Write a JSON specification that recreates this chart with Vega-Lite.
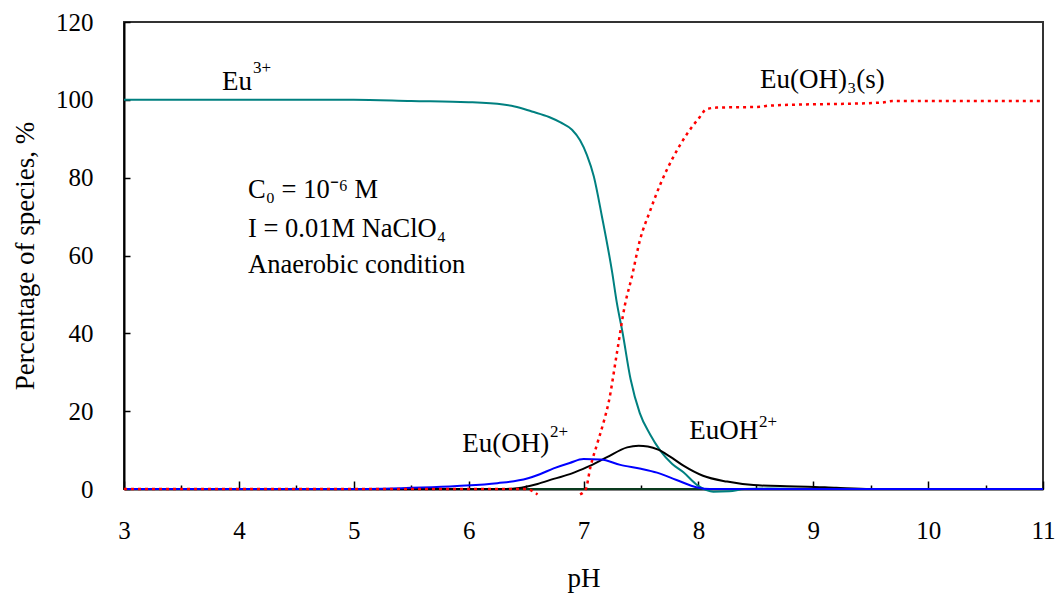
{
  "$schema": "https://vega.github.io/schema/vega-lite/v6.json",
  "width": 919,
  "height": 467,
  "autosize": {"type": "none"},
  "padding": {"left": 124, "top": 22, "right": 12, "bottom": 107},
  "background": "white",
  "config": {
    "view": {"stroke": "#333333", "strokeWidth": 2},
    "font": "Liberation Serif",
    "axis": {"labelFont": "Liberation Serif", "titleFont": "Liberation Serif", "labelColor": "black", "titleColor": "black", "titleFontWeight": "normal", "labelFontSize": 25, "titleFontSize": 27, "domainColor": "black", "domainWidth": 2, "tickColor": "black", "tickWidth": 1.5, "grid": false}
  },
  "datasets": {
    "curves": [
      {"pH": 3, "pct": 0, "s": "base", "seg": "g"},
      {"pH": 11, "pct": 0, "s": "base", "seg": "g"},

      {"pH": 3, "pct": 100, "s": "Eu3+", "seg": "t"},
      {"pH": 4, "pct": 100, "s": "Eu3+", "seg": "t"},
      {"pH": 5, "pct": 100, "s": "Eu3+", "seg": "t"},
      {"pH": 5.5, "pct": 99.7, "s": "Eu3+", "seg": "t"},
      {"pH": 6, "pct": 99.4, "s": "Eu3+", "seg": "t"},
      {"pH": 6.3, "pct": 98.8, "s": "Eu3+", "seg": "t"},
      {"pH": 6.4, "pct": 98.3, "s": "Eu3+", "seg": "t"},
      {"pH": 6.55, "pct": 97, "s": "Eu3+", "seg": "t"},
      {"pH": 6.7, "pct": 95.6, "s": "Eu3+", "seg": "t"},
      {"pH": 6.8, "pct": 94.2, "s": "Eu3+", "seg": "t"},
      {"pH": 6.9, "pct": 92.3, "s": "Eu3+", "seg": "t"},
      {"pH": 6.97, "pct": 89.6, "s": "Eu3+", "seg": "t"},
      {"pH": 7.03, "pct": 85.8, "s": "Eu3+", "seg": "t"},
      {"pH": 7.09, "pct": 80.3, "s": "Eu3+", "seg": "t"},
      {"pH": 7.16, "pct": 70.1, "s": "Eu3+", "seg": "t"},
      {"pH": 7.25, "pct": 55.6, "s": "Eu3+", "seg": "t"},
      {"pH": 7.29, "pct": 47.9, "s": "Eu3+", "seg": "t"},
      {"pH": 7.34, "pct": 40.2, "s": "Eu3+", "seg": "t"},
      {"pH": 7.41, "pct": 28.2, "s": "Eu3+", "seg": "t"},
      {"pH": 7.49, "pct": 19.5, "s": "Eu3+", "seg": "t"},
      {"pH": 7.58, "pct": 14, "s": "Eu3+", "seg": "t"},
      {"pH": 7.67, "pct": 9.8, "s": "Eu3+", "seg": "t"},
      {"pH": 7.77, "pct": 6.5, "s": "Eu3+", "seg": "t"},
      {"pH": 7.87, "pct": 4.3, "s": "Eu3+", "seg": "t"},
      {"pH": 7.99, "pct": 1.0, "s": "Eu3+", "seg": "t"},
      {"pH": 8.07, "pct": -0.3, "s": "Eu3+", "seg": "t"},
      {"pH": 8.13, "pct": -0.7, "s": "Eu3+", "seg": "t"},
      {"pH": 8.27, "pct": -0.6, "s": "Eu3+", "seg": "t"},
      {"pH": 8.4, "pct": 0, "s": "Eu3+", "seg": "t"},
      {"pH": 8.6, "pct": 0.1, "s": "Eu3+", "seg": "t"},
      {"pH": 9, "pct": 0, "s": "Eu3+", "seg": "t"},
      {"pH": 11, "pct": 0, "s": "Eu3+", "seg": "t"},

      {"pH": 3, "pct": 0, "s": "EuOH2+", "seg": "k"},
      {"pH": 6.3, "pct": 0, "s": "EuOH2+", "seg": "k"},
      {"pH": 6.42, "pct": 0.2, "s": "EuOH2+", "seg": "k"},
      {"pH": 6.6, "pct": 1.3, "s": "EuOH2+", "seg": "k"},
      {"pH": 6.74, "pct": 2.6, "s": "EuOH2+", "seg": "k"},
      {"pH": 6.9, "pct": 4, "s": "EuOH2+", "seg": "k"},
      {"pH": 7.03, "pct": 5.6, "s": "EuOH2+", "seg": "k"},
      {"pH": 7.2, "pct": 8.1, "s": "EuOH2+", "seg": "k"},
      {"pH": 7.38, "pct": 10.7, "s": "EuOH2+", "seg": "k"},
      {"pH": 7.48, "pct": 11.1, "s": "EuOH2+", "seg": "k"},
      {"pH": 7.56, "pct": 10.9, "s": "EuOH2+", "seg": "k"},
      {"pH": 7.65, "pct": 10.1, "s": "EuOH2+", "seg": "k"},
      {"pH": 7.75, "pct": 8.4, "s": "EuOH2+", "seg": "k"},
      {"pH": 7.87, "pct": 6.0, "s": "EuOH2+", "seg": "k"},
      {"pH": 8.04, "pct": 3.4, "s": "EuOH2+", "seg": "k"},
      {"pH": 8.25, "pct": 1.9, "s": "EuOH2+", "seg": "k"},
      {"pH": 8.48, "pct": 1.0, "s": "EuOH2+", "seg": "k"},
      {"pH": 8.77, "pct": 0.7, "s": "EuOH2+", "seg": "k"},
      {"pH": 8.95, "pct": 0.6, "s": "EuOH2+", "seg": "k"},
      {"pH": 9.2, "pct": 0.3, "s": "EuOH2+", "seg": "k"},
      {"pH": 9.5, "pct": 0, "s": "EuOH2+", "seg": "k"},
      {"pH": 11, "pct": 0, "s": "EuOH2+", "seg": "k"},

      {"pH": 3, "pct": 0, "s": "Eu(OH)2+", "seg": "b"},
      {"pH": 5, "pct": 0, "s": "Eu(OH)2+", "seg": "b"},
      {"pH": 5.59, "pct": 0.4, "s": "Eu(OH)2+", "seg": "b"},
      {"pH": 5.9, "pct": 0.8, "s": "Eu(OH)2+", "seg": "b"},
      {"pH": 6.25, "pct": 1.5, "s": "Eu(OH)2+", "seg": "b"},
      {"pH": 6.51, "pct": 2.7, "s": "Eu(OH)2+", "seg": "b"},
      {"pH": 6.62, "pct": 3.8, "s": "Eu(OH)2+", "seg": "b"},
      {"pH": 6.74, "pct": 5.3, "s": "Eu(OH)2+", "seg": "b"},
      {"pH": 6.88, "pct": 6.7, "s": "Eu(OH)2+", "seg": "b"},
      {"pH": 7.0, "pct": 7.7, "s": "Eu(OH)2+", "seg": "b"},
      {"pH": 7.15, "pct": 7.6, "s": "Eu(OH)2+", "seg": "b"},
      {"pH": 7.32, "pct": 6.2, "s": "Eu(OH)2+", "seg": "b"},
      {"pH": 7.5, "pct": 5.2, "s": "Eu(OH)2+", "seg": "b"},
      {"pH": 7.64, "pct": 4.2, "s": "Eu(OH)2+", "seg": "b"},
      {"pH": 7.81, "pct": 2.3, "s": "Eu(OH)2+", "seg": "b"},
      {"pH": 7.99, "pct": 0.4, "s": "Eu(OH)2+", "seg": "b"},
      {"pH": 8.1, "pct": 0, "s": "Eu(OH)2+", "seg": "b"},
      {"pH": 11, "pct": 0, "s": "Eu(OH)2+", "seg": "b"},

      {"pH": 3, "pct": 0, "s": "Eu(OH)3(s)", "seg": "r1"},
      {"pH": 6.5, "pct": 0, "s": "Eu(OH)3(s)", "seg": "r1"},
      {"pH": 6.6, "pct": -1.4, "s": "Eu(OH)3(s)", "seg": "r1"},
      {"pH": 6.97, "pct": -1.4, "s": "Eu(OH)3(s)", "seg": "r2"},
      {"pH": 7.02, "pct": 0, "s": "Eu(OH)3(s)", "seg": "r2"},
      {"pH": 7.06, "pct": 5.6, "s": "Eu(OH)3(s)", "seg": "r2"},
      {"pH": 7.12, "pct": 11.7, "s": "Eu(OH)3(s)", "seg": "r2"},
      {"pH": 7.18, "pct": 17.7, "s": "Eu(OH)3(s)", "seg": "r2"},
      {"pH": 7.22, "pct": 22.4, "s": "Eu(OH)3(s)", "seg": "r2"},
      {"pH": 7.29, "pct": 34.8, "s": "Eu(OH)3(s)", "seg": "r2"},
      {"pH": 7.36, "pct": 47.2, "s": "Eu(OH)3(s)", "seg": "r2"},
      {"pH": 7.42, "pct": 54.4, "s": "Eu(OH)3(s)", "seg": "r2"},
      {"pH": 7.49, "pct": 63.8, "s": "Eu(OH)3(s)", "seg": "r2"},
      {"pH": 7.58, "pct": 71.5, "s": "Eu(OH)3(s)", "seg": "r2"},
      {"pH": 7.67, "pct": 78.4, "s": "Eu(OH)3(s)", "seg": "r2"},
      {"pH": 7.78, "pct": 85.2, "s": "Eu(OH)3(s)", "seg": "r2"},
      {"pH": 7.9, "pct": 91.2, "s": "Eu(OH)3(s)", "seg": "r2"},
      {"pH": 8.01, "pct": 95.5, "s": "Eu(OH)3(s)", "seg": "r2"},
      {"pH": 8.07, "pct": 97.6, "s": "Eu(OH)3(s)", "seg": "r2"},
      {"pH": 8.16, "pct": 98.0, "s": "Eu(OH)3(s)", "seg": "r2"},
      {"pH": 8.54, "pct": 98.2, "s": "Eu(OH)3(s)", "seg": "r2"},
      {"pH": 8.61, "pct": 98.5, "s": "Eu(OH)3(s)", "seg": "r2"},
      {"pH": 9.6, "pct": 99.3, "s": "Eu(OH)3(s)", "seg": "r2"},
      {"pH": 9.69, "pct": 99.7, "s": "Eu(OH)3(s)", "seg": "r2"},
      {"pH": 11, "pct": 99.7, "s": "Eu(OH)3(s)", "seg": "r2"}
    ],
    "species": [
      {"pH": 3.853, "pct": 102.6, "label": "Eu"},
      {"pH": 8.536, "pct": 103.1, "label": "Eu(OH)₃(s)"},
      {"pH": 5.945, "pct": 9.5, "label": "Eu(OH)"},
      {"pH": 7.921, "pct": 12.9, "label": "EuOH"}
    ],
    "charges": [
      {"pH": 4.123, "pct": 106.8, "label": "3+"},
      {"pH": 6.708, "pct": 13.4, "label": "2+"},
      {"pH": 8.527, "pct": 16.0, "label": "2+"}
    ],
    "conditions": [
      {"pH": 4.08, "pct": 74.8, "label": "C₀ = 10⁻⁶ M"},
      {"pH": 4.08, "pct": 64.8, "label": "I = 0.01M NaClO₄"},
      {"pH": 4.08, "pct": 55.5, "label": "Anaerobic condition"}
    ]
  },
  "layer": [
    {
      "data": {"name": "curves"},
      "transform": [{"filter": "datum.s != 'Eu(OH)3(s)'"}],
      "mark": {"type": "line", "strokeWidth": 2, "clip": false, "interpolate": "monotone"},
      "encoding": {
        "x": {"field": "pH", "type": "quantitative", "scale": {"domain": [3, 11], "nice": false, "zero": false},
          "axis": {"title": "pH", "values": [3, 3.5, 4, 4.5, 5, 5.5, 6, 6.5, 7, 7.5, 8, 8.5, 9, 9.5, 10, 10.5, 11],
            "labelExpr": "datum.value % 1 == 0 ? format(datum.value, 'd') : ''",
            "tickSize": {"condition": {"test": "datum.value % 1 == 0", "value": -8}, "value": -4},
            "labelPadding": 37, "labelFlush": false, "titlePadding": 18, "labelOverlap": false}},
        "y": {"field": "pct", "type": "quantitative", "scale": {"domain": [0, 120], "nice": false, "zero": false},
          "axis": {"title": "Percentage of species, %", "values": [0, 10, 20, 30, 40, 50, 60, 70, 80, 90, 100, 110, 120],
            "labelExpr": "datum.value % 20 == 0 ? datum.label : ''",
            "tickSize": -6, "labelPadding": 37, "titlePadding": 16, "labelOverlap": false}},
        "color": {"field": "s", "type": "nominal", "legend": null,
          "scale": {"domain": ["base", "Eu3+", "EuOH2+", "Eu(OH)2+", "Eu(OH)3(s)"], "range": ["#0a3a1e", "#008080", "#000000", "#0000ff", "#ff0000"]}},
        "detail": {"field": "seg"},
        "order": {"field": "pH", "type": "quantitative"}
      }
    },
    {
      "data": {"name": "curves"},
      "transform": [{"filter": "datum.s == 'Eu(OH)3(s)'"}],
      "mark": {"type": "line", "strokeWidth": 2.5, "strokeDash": [3, 4], "clip": false, "interpolate": "monotone"},
      "encoding": {
        "x": {"field": "pH", "type": "quantitative"},
        "y": {"field": "pct", "type": "quantitative"},
        "color": {"field": "s", "type": "nominal", "legend": null},
        "detail": {"field": "seg"},
        "order": {"field": "pH", "type": "quantitative"}
      }
    },
    {
      "data": {"name": "species"},
      "mark": {"type": "text", "align": "left", "baseline": "alphabetic", "font": "Liberation Serif", "fontSize": 27, "color": "black"},
      "encoding": {
        "x": {"field": "pH", "type": "quantitative"},
        "y": {"field": "pct", "type": "quantitative"},
        "text": {"field": "label"}
      }
    },
    {
      "data": {"name": "charges"},
      "mark": {"type": "text", "align": "left", "baseline": "alphabetic", "font": "Liberation Serif", "fontSize": 17, "color": "black"},
      "encoding": {
        "x": {"field": "pH", "type": "quantitative"},
        "y": {"field": "pct", "type": "quantitative"},
        "text": {"field": "label"}
      }
    },
    {
      "data": {"name": "conditions"},
      "mark": {"type": "text", "align": "left", "baseline": "alphabetic", "font": "Liberation Serif", "fontSize": 26.5, "color": "black"},
      "encoding": {
        "x": {"field": "pH", "type": "quantitative"},
        "y": {"field": "pct", "type": "quantitative"},
        "text": {"field": "label"}
      }
    }
  ]
}
